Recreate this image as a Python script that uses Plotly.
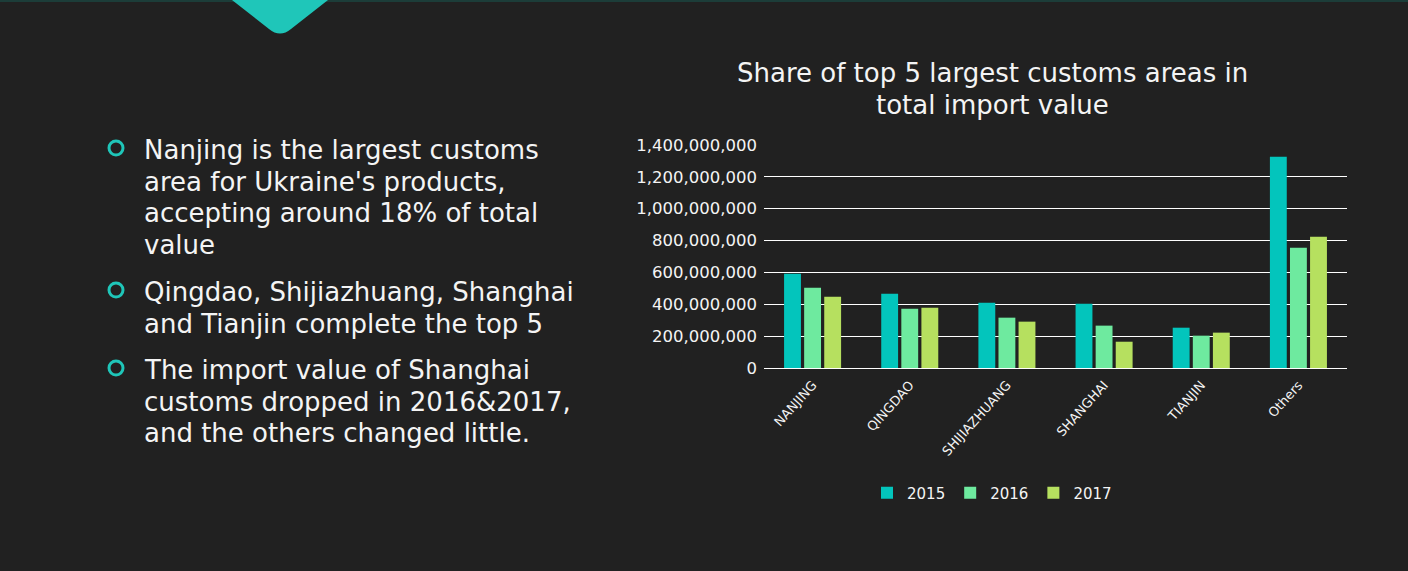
import plotly.graph_objects as go

# =============== data
areas = ['NANJING', 'QINGDAO', 'SHIJIAZHUANG', 'SHANGHAI', 'TIANJIN', 'Others']
years = ['2015', '2016', '2017']
v2015 = [592e6, 466e6, 410e6, 404e6, 253e6, 1327e6]
v2016 = [504e6, 372e6, 316e6, 266e6, 203e6, 755e6]
v2017 = [448e6, 379e6, 291e6, 165e6, 222e6, 824e6]
y_ticks = [0, 200e6, 400e6, 600e6, 800e6, 1000e6, 1200e6, 1400e6]

title_lines = ['Share of top 5 largest customs areas in', 'total import value']
bullets = [
    ["Nanjing is the largest customs", "area for Ukraine's products,",
     "accepting around 18% of total", "value"],
    ["Qingdao, Shijiazhuang, Shanghai", "and Tianjin complete the top 5"],
    ["The import value of Shanghai", "customs dropped in 2016&2017,",
     "and the others changed little."],
]

# =============== colours
bgc = '#212121'
teal = '#1fc6b9'
txt = '#f4f4f4'
bar_cols = ['#03c5bc', '#6eea9f', '#b6e05f']

# =============== page geometry (pixels)
W, H = 1408, 571
L, R, T, B = 764, 61, 145, 203
pw, ph = W - L - R, H - T - B

def px(x): return (x - L) / pw
def py(y): return (H - B - y) / ph

FONT = 'DejaVu Sans'

fig = go.Figure()
for yr, vals, col in zip(years, [v2015, v2016, v2017], bar_cols):
    fig.add_trace(go.Bar(x=areas, y=vals, name=yr, marker=dict(color=col, line_width=0)))

# =============== decorations
shapes = [
    # thin top border
    dict(type='rect', xref='paper', yref='paper', x0=px(0), x1=px(W), y0=py(0), y1=py(2),
         fillcolor='#1c3d39', line_width=0, layer='below'),
    # chevron tab
    dict(type='path', xref='paper', yref='paper', layer='below', fillcolor=teal, line_width=0,
         path='M {},{} L {},{} L {},{} Q {},{} {},{} Z'.format(
             px(232), py(0), px(328), py(0), px(291), py(29), px(280), py(38), px(269), py(29))),
]
for cy in [148, 290, 368]:
    shapes.append(dict(type='circle', xref='paper', yref='paper',
                       x0=px(109), x1=px(123), y0=py(cy - 7), y1=py(cy + 7),
                       line=dict(color=teal, width=3), fillcolor='rgba(0,0,0,0)'))

# =============== text: one annotation per line keeps the slide's tight spacing
annotations = []
for lines, first in zip(bullets, [150, 292, 370]):
    for i, line in enumerate(lines):
        annotations.append(dict(text=line, xref='paper', yref='paper', x=px(143),
                                y=py(first + i * 31.5), xanchor='left', yanchor='middle',
                                showarrow=False, borderpad=0,
                                font=dict(family=FONT, size=26, color=txt)))
for i, line in enumerate(title_lines):
    annotations.append(dict(text=line, xref='paper', yref='paper', x=px(992),
                            y=py(73 + i * 32), xanchor='center', yanchor='middle',
                            showarrow=False, borderpad=0,
                            font=dict(family=FONT, size=26, color=txt)))

fig.update_layout(
    width=W, height=H,
    paper_bgcolor=bgc, plot_bgcolor=bgc,
    margin=dict(l=L, r=R, t=T, b=B),
    font=dict(family=FONT, color=txt),
    barmode='group', bargap=0.38, bargroupgap=0.16,
    legend=dict(orientation='h', x=px(992), xanchor='center', y=py(493), yanchor='middle',
                font=dict(family=FONT, size=15, color=txt), bgcolor='rgba(0,0,0,0)',
                itemwidth=30),
    shapes=shapes, annotations=annotations,
)
fig.update_yaxes(range=[0, 1400e6], tickvals=y_ticks, tickformat=',', showgrid=True,
                 gridcolor='#ffffff', gridwidth=1, zeroline=True, zerolinecolor='#ffffff',
                 zerolinewidth=1, showline=False, ticks='', ticklabelstandoff=6,
                 tickfont=dict(family=FONT, size=16.5, color=txt))
fig.update_xaxes(tickangle=-48, showgrid=False, showline=False, ticks='', ticklabelstandoff=6,
                 tickfont=dict(family=FONT, size=13, color=txt))

fig.write_html('out.html', config={'displayModeBar': False},
               post_script="document.body.style.margin='0';document.body.style.overflow='hidden';")
